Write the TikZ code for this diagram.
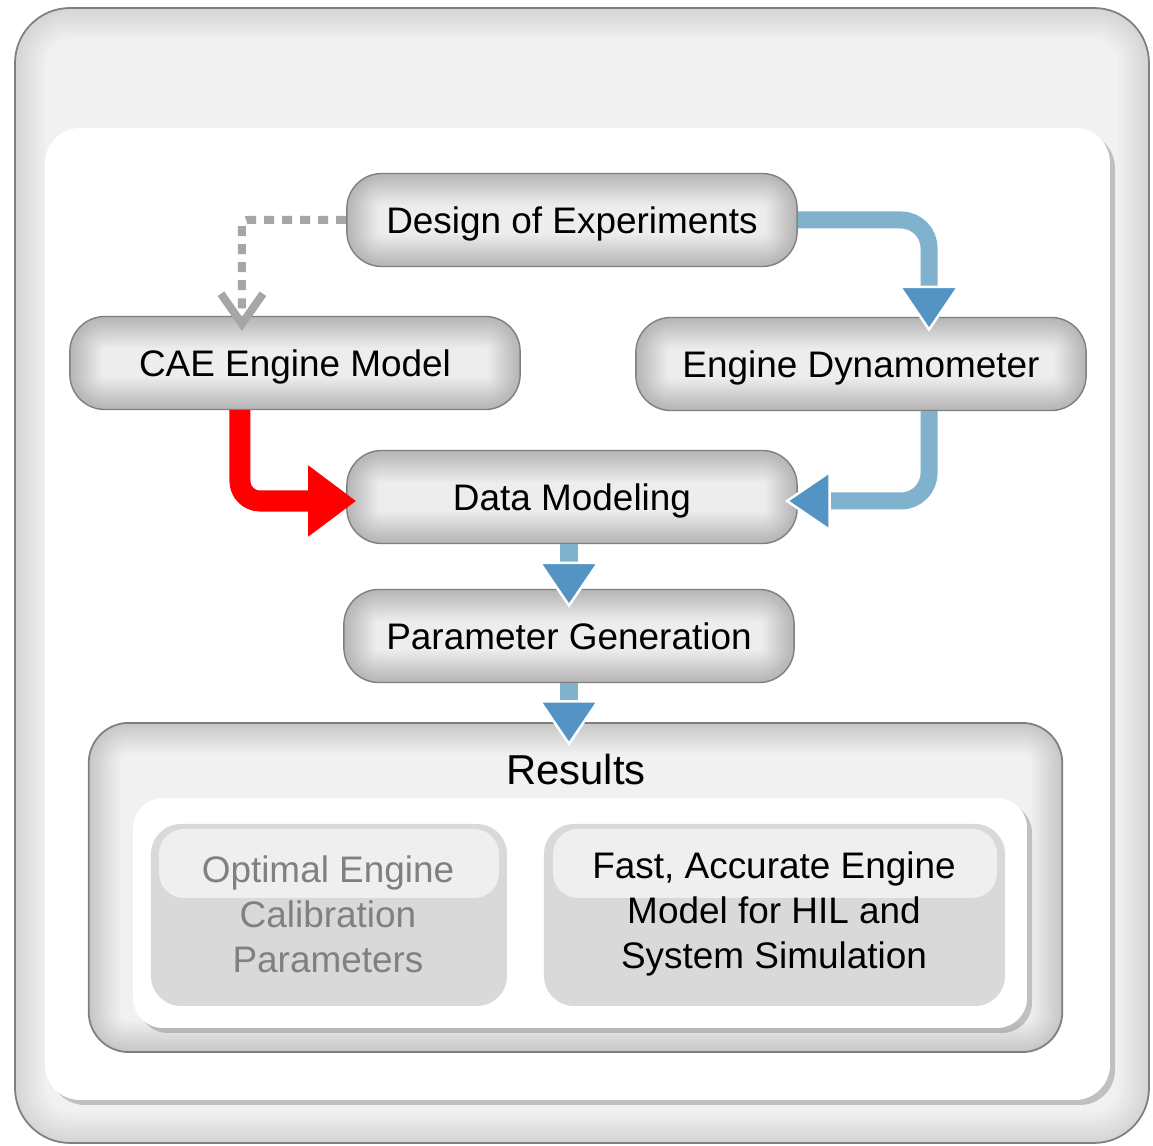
\documentclass[tikz,border=0pt]{standalone}
\usepackage{fontspec}
\setmainfont{Liberation Sans}
\usepackage{tikz}
\usetikzlibrary{calc, positioning, arrows.meta, shadows}
\definecolor{framegray}{HTML}{F1F1F1}
\definecolor{rimline}{HTML}{7F7F7F}
\definecolor{stagefill}{HTML}{EDEDED}
\definecolor{subfill}{HTML}{D9D9D9}
\definecolor{topgray}{HTML}{EFEFEF}
\definecolor{shaftblue}{HTML}{80B1CD}
\definecolor{headblue}{HTML}{5394C5}
\definecolor{dotgray}{HTML}{A6A6A6}
\definecolor{fadedtext}{HTML}{808080}
\tikzstyle{stage}=[draw=rimline, line width=0.4pt, fill=stagefill, rim={0.35cm}{0.014}, rounded corners=0.35cm, minimum width=4.5cm, minimum height=0.93cm, inner sep=0pt, text height=0.265cm, text depth=0pt, font=\fontsize{10.5}{12.6}\selectfont]
\tikzstyle{frame}=[draw=rimline, line width=0.5pt, fill=framegray]
\tikzstyle{panel}=[fill=white, drop shadow={shadow xshift=0.05cm, shadow yshift=-0.05cm, opacity=0.35, fill=black!60}]
\tikzstyle{subbox}=[fill=subfill, rounded corners=0.3cm]
\tikzstyle{subtop}=[fill=topgray, rounded corners=0.25cm]
\tikzstyle{subtext}=[align=center, inner sep=0pt, font=\fontsize{10.5}{12.8}\selectfont]
\tikzstyle{flow}=[line width=0.17cm, shaftblue, -{Triangle[length=0.46cm, width=0.62cm, color=white, fill=headblue, line width'=0.025cm]}]
\tikzstyle{hotflow}=[line width=0.21cm, red, rounded corners=0.2cm, -{Triangle[length=0.48cm, width=0.68cm]}]
\tikzstyle{dotflow}=[line width=0.08cm, dotgray, dash pattern=on 0.1cm off 0.08cm, rounded corners=0.05cm, -{Straight Barb[length=0.3cm, width=0.42cm]}]
\tikzset{rim/.style 2 args={path picture={\foreach \w in {1,...,14}{\draw[black, opacity=#2, line width=\w*0.045cm, rounded corners=#1] (path picture bounding box.south west) rectangle (path picture bounding box.north east);}}}}

\begin{document}
\begin{tikzpicture}[x=0.01cm, y=-0.01cm]
\useasboundingbox (0,0) rectangle (1153,1146);
\draw[frame, rim={0.55cm}{0.009}, rounded corners=0.55cm] (15,8) rectangle (1149,1143);
\fill[panel, rounded corners=0.35cm] (45,128) rectangle (1110,1100);
%
\node[stage] (doe) at (572,220) {Design of Experiments};
\node[stage] (cae) at (295,363) {CAE Engine Model};
\node[stage] (dyno) at (861,364) {Engine Dynamometer};
\node[stage] (datamod) at (572,497) {Data Modeling};
\node[stage] (param) at (569,636) {Parameter Generation};
%
\node[frame, rim={0.4cm}{0.011}, rounded corners=0.4cm, minimum width=9.73cm, minimum height=3.29cm] (results) at (575.5,887.5) {};
\node[font=\fontsize{11.9}{14}\selectfont] (reslabel) at (576,770) {Results};
\fill[panel, rounded corners=0.3cm] (133,798) rectangle (1027,1028);
\fill[subbox] (151,824) rectangle (507,1006);
\fill[subtop] (159,829) rectangle (499,898);
\fill[subbox] (544,824) rectangle (1005,1006);
\fill[subtop] (553,829) rectangle (997,898);
\node[subtext, text=fadedtext] (optimal) at (328,914) {Optimal Engine\\Calibration\\Parameters};
\node[subtext] (fastmodel) at (774,914) {Fast, Accurate Engine\\Model for HIL and\\System Simulation};
%
\draw[dotflow, shorten >=-0.15cm] (doe.west) -| ([xshift=-0.53cm]cae.north);
\draw[flow, rounded corners=0.28cm, shorten >=-0.15cm] (doe.east) -| ([xshift=0.68cm]dyno.north);
\draw[flow, rounded corners=0.28cm, shorten >=-0.13cm] ([xshift=0.68cm]dyno.south) |- ([yshift=-0.04cm]datamod.east);
\draw[hotflow, shorten >=-0.1cm] ([xshift=-0.55cm]cae.south) |- ([yshift=-0.04cm]datamod.west);
\draw[flow, shorten >=-0.19cm] (datamod.south -| param.north) -- (param.north);
\draw[flow, shorten >=-0.24cm] (param.south) -- (param.south |- results.north);
\end{tikzpicture}
\end{document}
